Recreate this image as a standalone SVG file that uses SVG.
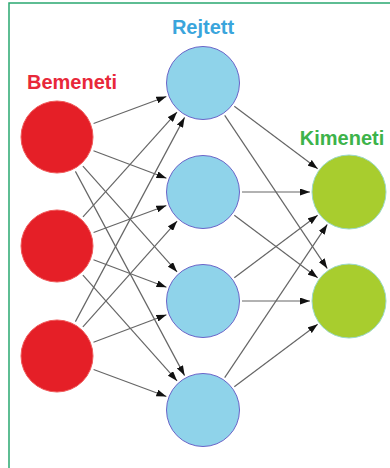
<svg xmlns="http://www.w3.org/2000/svg" width="390" height="468" viewBox="0 0 390 468">
<style>
.lbl{font-family:"Liberation Sans",Arial,sans-serif;font-weight:bold;font-size:20px;text-anchor:middle}
.in{fill:#e51f27;stroke:#f05a5a;stroke-width:1}
.hid{fill:#8fd3ea;stroke:#6a64c8;stroke-width:1}
.out{fill:#a8cd2e;stroke:#9ad8c8;stroke-width:1}
.e{stroke:#666;stroke-width:1.2;fill:none;marker-end:url(#ah)}
</style>
<defs>
<marker id="ah" markerUnits="userSpaceOnUse" markerWidth="10" markerHeight="7" refX="10" refY="3.5" orient="auto">
<path d="M0,0 L10,3.5 L0,7 z" fill="#111"/>
</marker>
</defs>
<rect x="0" y="0" width="390" height="468" fill="#ffffff"/>
<rect x="9" y="3" width="420" height="500" fill="none" stroke="#2aa870" stroke-width="1.5"/>
<text class="lbl" x="72" y="89" fill="#e8283a">Bemeneti</text>
<text class="lbl" x="203" y="34" fill="#3aa5dc">Rejtett</text>
<text class="lbl" x="342" y="145" fill="#3db34a">Kimeneti</text>
<g id="edges">
<line class="e" x1="93.6" y1="123.5" x2="166.4" y2="96.5"/>
<line class="e" x1="93.5" y1="150.7" x2="166.5" y2="178.3"/>
<line class="e" x1="82.9" y1="166.1" x2="177.1" y2="271.9"/>
<line class="e" x1="75.4" y1="171.4" x2="184.6" y2="375.6"/>
<line class="e" x1="83.0" y1="216.9" x2="177.0" y2="112.1"/>
<line class="e" x1="93.6" y1="232.5" x2="166.4" y2="205.5"/>
<line class="e" x1="93.5" y1="259.7" x2="166.5" y2="287.3"/>
<line class="e" x1="82.9" y1="275.1" x2="177.1" y2="380.9"/>
<line class="e" x1="75.4" y1="321.6" x2="184.6" y2="117.4"/>
<line class="e" x1="82.9" y1="326.9" x2="177.1" y2="221.1"/>
<line class="e" x1="93.5" y1="342.3" x2="166.5" y2="314.7"/>
<line class="e" x1="93.6" y1="369.5" x2="166.4" y2="396.5"/>
<line class="e" x1="234.3" y1="106.3" x2="317.7" y2="168.7"/>
<line class="e" x1="224.7" y1="115.4" x2="327.3" y2="268.6"/>
<line class="e" x1="242" y1="192" x2="310" y2="192"/>
<line class="e" x1="234.3" y1="215.3" x2="317.7" y2="277.7"/>
<line class="e" x1="234.3" y1="277.7" x2="317.7" y2="215.3"/>
<line class="e" x1="242" y1="301" x2="310" y2="301"/>
<line class="e" x1="224.7" y1="377.6" x2="327.3" y2="224.4"/>
<line class="e" x1="234.3" y1="386.7" x2="317.7" y2="324.3"/>
</g>
<g id="in1"><circle class="in" cx="57" cy="137" r="36"/></g>
<g id="in2"><circle class="in" cx="57" cy="246" r="36"/></g>
<g id="in3"><circle class="in" cx="57" cy="356" r="36"/></g>
<g id="h1"><circle class="hid" cx="203" cy="83" r="36.5"/></g>
<g id="h2"><circle class="hid" cx="203" cy="192" r="36.5"/></g>
<g id="h3"><circle class="hid" cx="203" cy="301" r="36.5"/></g>
<g id="h4"><circle class="hid" cx="203" cy="410" r="36.5"/></g>
<g id="o1"><circle class="out" cx="349" cy="192" r="37"/></g>
<g id="o2"><circle class="out" cx="349" cy="301" r="37"/></g>
</svg>
